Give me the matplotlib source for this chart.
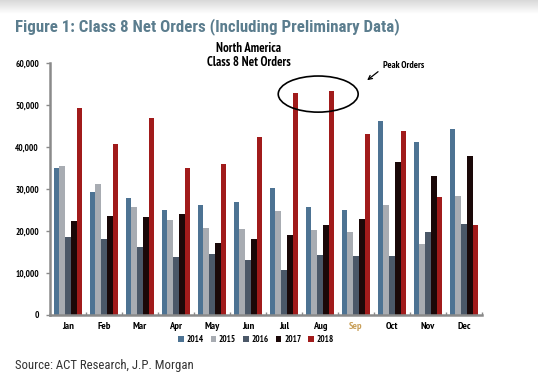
import matplotlib
matplotlib.use("Agg")
import matplotlib.pyplot as plt
import numpy as np
from matplotlib.patches import Ellipse

months = ["Jan", "Feb", "Mar", "Apr", "May", "Jun", "Jul", "Aug", "Sep", "Oct", "Nov", "Dec"]
years = ["2014", "2015", "2016", "2017", "2018"]
v2014 = [34900, 29400, 27800, 25100, 26300, 26900, 30300, 25600, 25100, 46200, 41200, 44400]
v2015 = [35500, 31300, 25600, 22700, 20800, 20500, 24700, 20200, 19700, 26200, 17000, 28400]
v2016 = [18500, 18200, 16300, 13900, 14500, 13100, 10600, 14300, 14100, 14100, 19700, 21600]
v2017 = [22400, 23500, 23400, 24100, 17100, 18200, 19000, 21500, 22900, 36400, 33000, 37800]
v2018 = [49400, 40600, 46900, 35000, 36000, 42400, 52900, 53300, 43100, 43800, 28200, 21500]
yticks = [0, 10000, 20000, 30000, 40000, 50000, 60000]

series = [v2014, v2015, v2016, v2017, v2018]
colors = ["#4d7393", "#a8acb2", "#4b5868", "#1a0808", "#a11b1b"]

narrow = ["PT Sans Narrow", "Archivo Narrow", "Roboto Condensed", "DejaVu Sans"]
cond = ["Roboto Condensed", "Arimo", "Liberation Sans", "DejaVu Sans"]
plt.rcParams["font.family"] = ["Liberation Sans", "DejaVu Sans"]

fig = plt.figure(figsize=(5.38, 3.84), dpi=100)
ax = fig.add_axes([50 / 538, 1 - 315 / 384, 432 / 538, 252 / 384])

x = np.arange(len(months))
w = 0.158
for i, (vals, c, yr) in enumerate(zip(series, colors, years)):
    ax.bar(x + (i - 2) * w, vals, width=w, color=c, label=yr, linewidth=0)

ax.set_xlim(-0.5, len(months) - 0.5)
ax.set_ylim(0, 60000)
ax.set_yticks(yticks)
ax.set_yticklabels([f"{t:,}" for t in yticks], fontsize=6.5, fontweight="bold", family=narrow)
ax.set_xticks(x)
ax.set_xticklabels(months, fontsize=7.5, fontweight="bold", family=narrow)
ax.get_xticklabels()[8].set_color("#c9a05a")
ax.set_xticks(np.arange(-0.5, len(months)), minor=True)
ax.tick_params(axis="x", which="major", length=0, pad=5)
ax.tick_params(axis="x", which="minor", length=2, color="#8a8a8a", width=1, direction="in")
ax.tick_params(axis="y", length=3, color="#8a8a8a", width=1, pad=5)
for s in ["top", "right"]:
    ax.spines[s].set_visible(False)
for s in ["left", "bottom"]:
    ax.spines[s].set_color("#8a8a8a")
    ax.spines[s].set_linewidth(1.8)

ax.add_patch(Ellipse((6.95, 52600), width=2.22, height=8600, fill=False,
                     edgecolor="black", linewidth=1.2, clip_on=False))
ax.annotate("Peak Orders", xy=(8.31, 55900), xytext=(8.75, 59500),
            fontsize=7, fontweight="bold", family=narrow, va="center", ha="left",
            arrowprops=dict(arrowstyle="->", color="black", lw=0.9,
                            shrinkA=2, shrinkB=0, relpos=(0, 0.2)))

fig.text(249 / 538, 1 - 55.5 / 384, "North America\nClass 8 Net Orders", ha="center", va="center",
         fontsize=9.2, fontweight="bold", family=narrow, linespacing=1.0)

fig.text(15 / 538, 1 - 27 / 384, "Figure 1: Class 8 Net Orders (Including Preliminary Data)",
         ha="left", va="center", fontsize=12.2, fontweight="bold", color="#5b7d8e", family=cond)

fig.text(15 / 538, 1 - 365 / 384, "Source: ACT Research, J.P. Morgan",
         ha="left", va="center", fontsize=9.2, color="#333333", family=cond)

leg = fig.legend(loc="center", bbox_to_anchor=(256 / 538, 1 - 340 / 384), ncol=5,
                 frameon=False, handlelength=0.6, handleheight=0.6, handletextpad=0.3,
                 columnspacing=0.8, prop={"size": 6.5, "weight": "bold", "family": narrow})

band = fig.add_axes([0, 1 - 14 / 384, 1, 14 / 384], zorder=-1)
grad = np.linspace(0.85, 1.0, 20).reshape(-1, 1)
band.imshow(grad, aspect="auto", cmap="gray", vmin=0, vmax=1, extent=[0, 1, 0, 1])
band.axis("off")

fig.savefig("out.png", dpi=100)
